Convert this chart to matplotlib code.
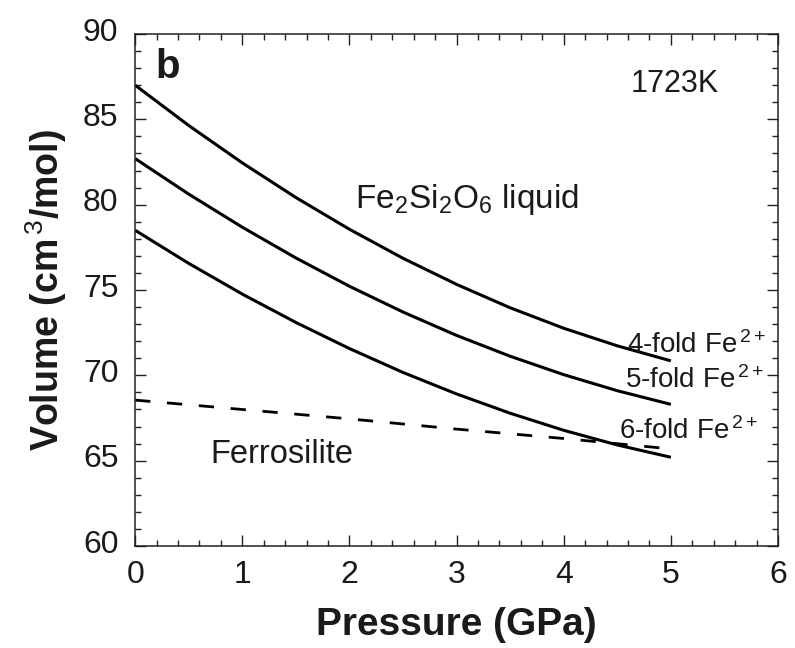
import numpy as np
import matplotlib
matplotlib.use("Agg")
import matplotlib.pyplot as plt
from matplotlib.transforms import ScaledTranslation

# Volume of Fe2Si2O6 liquid vs pressure
pressure = [0.0, 0.5, 1.0, 1.5, 2.0, 2.5, 3.0, 3.5, 4.0, 4.5, 5.0]
vol_4fold = [87.0, 84.64, 82.45, 80.42, 78.56, 76.86, 75.33, 73.96, 72.76, 71.73, 70.85]
vol_5fold = [82.7, 80.62, 78.68, 76.88, 75.22, 73.71, 72.34, 71.12, 70.04, 69.10, 68.3]
vol_6fold = [78.5, 76.56, 74.76, 73.10, 71.57, 70.17, 68.91, 67.78, 66.78, 65.92, 65.2]

# Ferrosilite (dashed)
p_fs = [0.0, 1.0, 2.0, 3.0, 4.0, 4.9]
vol_fs = [68.55, 68.0, 67.45, 66.85, 66.3, 65.75]

curve_labels = ["4-fold Fe$^{\\,2+}$", "5-fold Fe$^{\\,2+}$", "6-fold Fe$^{\\,2+}$"]
label_pos = [(4.59, 71.8), (4.57, 69.75), (4.52, 66.75)]

plt.rcParams["font.family"] = ["Liberation Sans", "DejaVu Sans"]
plt.rcParams["mathtext.fontset"] = "custom"
plt.rcParams["mathtext.rm"] = "Liberation Sans"
plt.rcParams["mathtext.it"] = "Liberation Sans:italic"
plt.rcParams["mathtext.bf"] = "Liberation Sans:bold"

txt = "#1a1a1a"

fig = plt.figure(figsize=(7.95, 6.48), dpi=100)
ax = fig.add_axes([0.170, 0.1574, 0.8086, 0.7901])

lw = 2.2
for v in (vol_4fold, vol_5fold, vol_6fold):
    ax.plot(pressure, v, color="black", lw=lw, solid_capstyle="butt")
ax.plot(p_fs, vol_fs, color="black", lw=2.0, dashes=(5.5, 6.0))

ax.set_xlim(0, 6)
ax.set_ylim(60, 90)
ax.set_xticks(np.arange(0, 7, 1))
ax.set_yticks(np.arange(60, 91, 5))
ax.set_xticks(np.arange(0, 6.01, 0.2), minor=True)
ax.set_yticks(np.arange(60, 91, 1), minor=True)

ax.tick_params(which="both", direction="in", top=True, right=True,
               width=1.0, color="#222222")
ax.tick_params(which="major", length=8, labelsize=23, labelcolor=txt)
ax.tick_params(axis="x", which="major", pad=10)
ax.tick_params(axis="y", which="major", pad=12)
ax.tick_params(which="minor", length=4.5)
for s in ax.spines.values():
    s.set_linewidth(1.1)
    s.set_color("#222222")

# y tick labels sit a little above their ticks in the original
shift = ScaledTranslation(0, 5 / 100, fig.dpi_scale_trans)
for lab in ax.get_yticklabels():
    lab.set_transform(lab.get_transform() + shift)

ax.set_xlabel("Pressure (GPa)", fontsize=28, fontweight="bold", color=txt, labelpad=12)
ax.set_ylabel("Volume (cm$^{\\,3}$/mol)", fontsize=27, fontweight="bold", color=txt, labelpad=10)

ax.text(0.19, 89.2, "b", fontsize=29, fontweight="bold", color=txt, va="top", ha="left")
ax.text(4.62, 87.1, "1723K", fontsize=22, color=txt, va="center", ha="left")
ax.text(2.05, 80.3, "Fe$_2$Si$_2$O$_6$ liquid", fontsize=24, color=txt, va="center", ha="left")
ax.text(0.70, 65.35, "Ferrosilite", fontsize=23.5, color=txt, va="center", ha="left")
for lab, (x, y) in zip(curve_labels, label_pos):
    ax.text(x, y, lab, fontsize=20, color=txt, va="center", ha="left")

fig.savefig("out.png", dpi=100)
